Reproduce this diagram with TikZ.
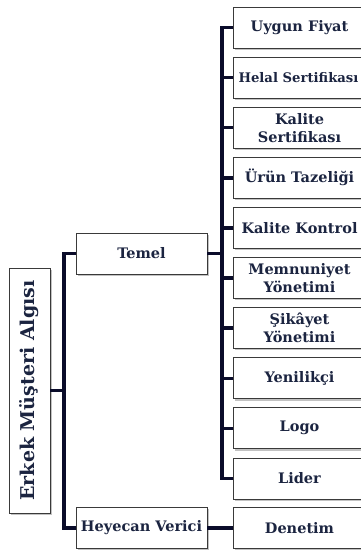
\documentclass[tikz,border=0pt]{standalone}
\usepackage{fontspec}
\setmainfont{DejaVu Serif}
\usetikzlibrary{shadows}
\definecolor{linec}{HTML}{0A0C2A}
\definecolor{textc}{HTML}{1B2440}
\definecolor{boxc}{HTML}{3A3A3A}
\tikzset{
  box/.style={draw=boxc, line width=0.8pt, fill=white, inner sep=0pt,
    text=textc, font=\bfseries\fontsize{14.5}{18}\selectfont, align=center,
    drop shadow={shadow xshift=1.6pt, shadow yshift=-1.8pt, opacity=0.4, fill=black!60}},
  child/.style={box, minimum width=133pt, minimum height=41pt},
  mid/.style={box, minimum width=131pt, minimum height=41pt},
  rootbox/.style={box, minimum width=245pt, minimum height=41pt, rotate=90,
    font=\bfseries\fontsize{19}{20}\selectfont},
  conn/.style={draw=linec, line width=3.4pt}
}
\begin{document}
\begin{tikzpicture}[x=1pt,y=-1pt]
\useasboundingbox (0,0) rectangle (361,554);
\clip (0,0) rectangle (361,554);
\coordinate (tx1) at (64,0);
\coordinate (tx2) at (222,0);
\node[rootbox] (root) at (29.5,390.5) {Erkek Müşteri Algısı};
\node[mid] (temel) at (141.5,253.5) {Temel};
\node[mid] (heyecan) at (141.5,528) {Heyecan Verici};
\node[child] (c1) at (299.5,27.5) {Uygun Fiyat};
\node[child, font=\bfseries\fontsize{13.2}{18}\selectfont] (c2) at (299.5,77.6) {\hspace*{-2pt}Helal Sertifikası};
\node[child] (c3) at (299.5,127.7) {Kalite\\Sertifikası};
\node[child] (c4) at (299.5,177.8) {Ürün Tazeliği};
\node[child] (c5) at (299.5,227.9) {Kalite Kontrol};
\node[child] (c6) at (299.5,278) {Memnuniyet\\Yönetimi};
\node[child] (c7) at (299.5,328.1) {Şikâyet\\Yönetimi};
\node[child] (c8) at (299.5,378.2) {Yenilikçi};
\node[child] (c9) at (299.5,428.3) {Logo};
\node[child] (c10) at (299.5,478.4) {Lider};
\node[child] (den) at (299.5,528) {Denetim};
% connectors
\draw[conn] (root.south) -- (root.south -| tx1);
\draw[conn] (temel.west) -| (tx1 |- heyecan.west) -- (heyecan.west);
\draw[conn] (heyecan.east) -- (den.west);
\draw[conn] (temel.east) -- (temel.east -| tx2);
\draw[conn] (c1.west) -| (tx2 |- c10.west) -- (c10.west);
\foreach \n in {c2,c3,c4,c5,c6,c7,c8,c9}{
  \draw[conn] (\n.west) -- (\n.west -| tx2);
}
\end{tikzpicture}
\end{document}
